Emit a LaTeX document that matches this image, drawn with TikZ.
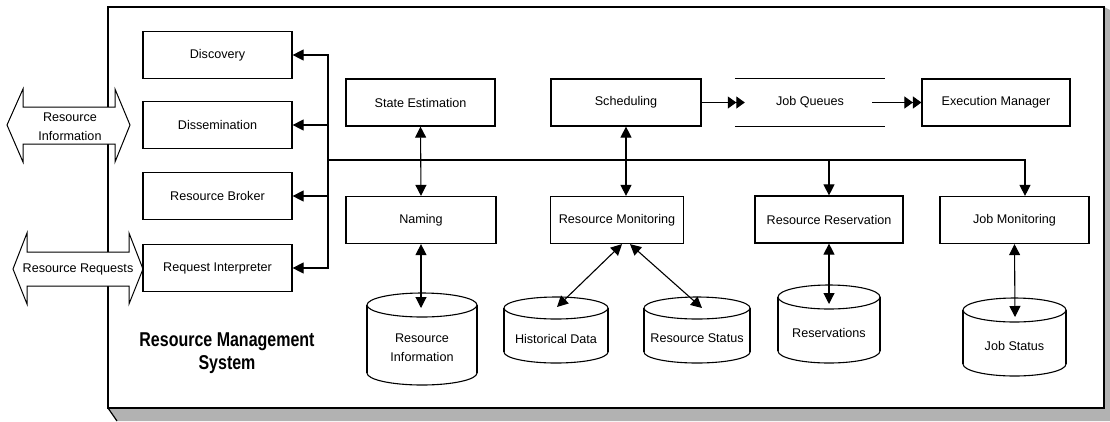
\documentclass[tikz,border=0pt]{standalone}
\usepackage{fontspec}
\setmainfont{Liberation Sans}
\newfontfamily\titlefont[FakeStretch=0.8]{Liberation Sans}
\usetikzlibrary{arrows.meta}

% database drum: name, centre x, top y, bottom y, half width, rim radius, text
\newcommand\drum[7]{%
  \draw[drumline] (#2,#4-#6) ellipse[x radius=#5, y radius=#6];
  \fill[white] (#2-#5,#3+#6) rectangle (#2+#5,#4-#6);
  \draw[drumline] (#2-#5,#3+#6) -- (#2-#5,#4-#6) (#2+#5,#3+#6) -- (#2+#5,#4-#6);
  \draw[drumline] (#2,#3+#6) ellipse[x radius=#5, y radius=#6];
  \node[lbl] (#1) at ({#2},{(#3+#6+#4)/2+3}) {#7};
}

\begin{document}
\begin{tikzpicture}[x=1pt,y=-1pt,
  lbl/.style={font=\fontsize{12.6}{18.8}\selectfont, align=center, inner sep=0pt},
  module/.style={draw, line width=1.2pt, fill=white, minimum width=149pt,
    minimum height=47pt, inner sep=2pt, font=\fontsize{12.6}{14}\selectfont},
  conn/.style={line width=1.1pt, -{Triangle[length=11pt,width=11pt]}},
  biconn/.style={line width=1.1pt,
    {Triangle[length=11pt,width=11pt]}-{Triangle[length=11pt,width=11pt]}},
  queueconn/.style={line width=1.1pt,
    -{Triangle[length=8.5pt,width=12pt]Triangle[length=8.5pt,width=12pt]}},
  drumline/.style={line width=1.1pt, fill=white},
  bigarrow/.style={draw, line width=1pt, fill=white}]
\useasboundingbox (0,0) rectangle (1110,421);

% system frame with its shadow
\fill[gray!60] (108,408) -- (117,421) -- (1110,421) -- (1110,10) -- (1104,7) -- cycle;
\draw[line width=1.2pt] (108,408) -- (117,421);
\draw[line width=1.3pt, fill=white] (108,7) rectangle (1104,408);

% external interfaces
\draw[bigarrow] (7,125) -- (23,89) -- (23,107) -- (115,107) -- (115,89) -- (130,125)
  -- (115,162) -- (115,144) -- (23,144) -- (23,162) -- cycle;
\node[lbl] (extinfo) at (70,127) {Resource\\Information};
\draw[bigarrow] (13,269) -- (27,233) -- (27,252) -- (129,252) -- (129,233) -- (143,269)
  -- (129,304) -- (129,286) -- (27,286) -- (27,304) -- cycle;
\node[lbl] (extreq) at (78,269) {Resource Requests};

% front-end modules
\node[module] (disc)   at (217.5,55)  {Discovery};
\node[module] (diss)   at (217.5,125) {Dissemination};
\node[module] (broker) at (217.5,196) {Resource Broker};
\node[module] (reqi)   at (217.5,268) {Request Interpreter};

% core modules
\node[module] (stest) at (420.5,102.5) {State Estimation};
\node[module, minimum width=150pt] (sched) at (626,102.5) {Scheduling};
\node[module, minimum width=148pt] (exec) at (996,102.5) {Execution Manager};
\node[minimum width=150pt, minimum height=48pt, inner sep=0pt,
  font=\fontsize{12.6}{14}\selectfont] (queue) at (810,102.5) {Job Queues};
\draw[line width=1.2pt] (queue.north west) -- (queue.north east)
  (queue.south west) -- (queue.south east);

\node[module, minimum width=150pt] (naming) at (421,220) {Naming};
\node[module, minimum width=133pt] (resmon) at (617,220) {Resource Monitoring};
\node[module, minimum width=148pt] (resv)   at (829,219.5) {Resource Reservation};
\node[module] (jobmon) at (1014.5,220) {Job Monitoring};

\node[font=\titlefont\bfseries\fontsize{20}{23}\selectfont, align=center, inner sep=0pt]
  (title) at (227,353) {Resource Management\\System};

% data stores
\drum{dbinfo}{422}{293}{385}{55}{12}{Resource\\Information}
\drum{dbhist}{556}{297}{363}{52}{11}{Historical Data}
\drum{dbstat}{697}{297}{363}{53}{11}{Resource Status}
\drum{dbresv}{829}{285}{363}{51}{12}{Reservations}
\drum{dbjob}{1014.5}{298}{376}{51.5}{12}{Job Status}

\coordinate (pinInfo) at (421,308);
\coordinate (pinHist) at (557,307);
\coordinate (pinStat) at (702,308);
\coordinate (pinResv) at (829,304);
\coordinate (pinJob)  at (1015,317);

% internal bus
\coordinate (hub) at (328,160);
\draw[conn] (hub) |- (disc.east);
\draw[conn] (hub) |- (diss.east);
\draw[conn] (hub) |- (broker.east);
\draw[conn] (hub) |- (reqi.east);
\draw[conn] (hub) -| (resv.north);
\draw[conn] (hub) -| ([xshift=10.5pt]jobmon.north);

% module links
\draw[biconn] (stest.south) -- (naming.north);
\draw[biconn] (sched.south) -- (sched.south |- resmon.north);
\draw[queueconn, shorten >=-10pt] (sched.east) -- (queue.west);
\draw[queueconn, shorten <=-13pt] (queue.east) -- (exec.west);

% store links
\draw[biconn] (naming.south) -- (pinInfo);
\draw[biconn] ([xshift=5pt]resmon.south) -- (pinHist);
\draw[biconn] ([xshift=13pt]resmon.south) -- (pinStat);
\draw[biconn] (resv.south) -- (pinResv);
\draw[biconn] (jobmon.south) -- (pinJob);
\end{tikzpicture}
\end{document}
